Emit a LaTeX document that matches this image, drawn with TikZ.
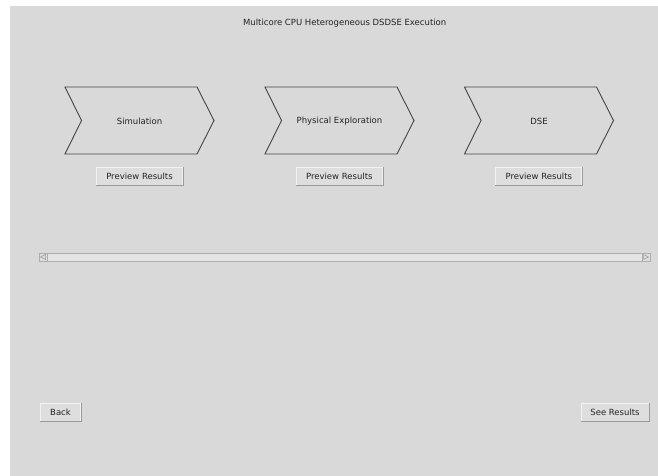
\documentclass[tikz,border=0pt]{standalone}
\usepackage{fontspec}
\setmainfont{DejaVu Sans}
\definecolor{bg}{HTML}{D9D9D9}
\definecolor{btn}{HTML}{DEDEDE}
\definecolor{btnhi}{HTML}{F2F2F2}
\definecolor{btnsh}{HTML}{9A9A9A}
\definecolor{txt}{HTML}{222222}
\definecolor{outl}{HTML}{444444}
\begin{document}
\begin{tikzpicture}[x=1pt,y=-1pt,
  every node/.style={font=\fontsize{8.5}{10}\selectfont, text=txt, inner sep=0pt},
  chev/.style={draw=outl, line width=0.9pt, line join=miter},
  btnbox/.style={draw=btnhi, fill=btn, line width=0.8pt, minimum height=18pt},
]
\useasboundingbox (0,0) rectangle (658,476);
\fill[white] (0,0) rectangle (658,476);
\fill[bg] (10,6) rectangle (658,476);

\node (title) at (344.7,23) {Multicore CPU Heterogeneous DSDSE Execution};

% chevrons
\foreach \dx/\nm/\lab in {0/sim/Simulation, 200/phy/Physical Exploration, 399.5/dse/DSE}{
  \draw[chev] (65+\dx,87) -- (197+\dx,87) -- (214+\dx,120.5) -- (197+\dx,154)
     -- (65+\dx,154) -- (81.5+\dx,120.5) -- cycle;
  \node (\nm) at (139.5+\dx,121) {\lab};
}

% preview buttons
\foreach \cx/\nm in {139.5/pv1, 339.3/pv2, 538.8/pv3}{
  \node[btnbox, minimum width=86pt] (\nm) at (\cx,176) {Preview Results};
  \draw[btnsh, line width=1pt] ([xshift=0.5pt]\nm.north east) -- ([xshift=0.5pt,yshift=-0.5pt]\nm.south east) -- ([yshift=-0.5pt]\nm.south west);
}

% scrollbar
\node[draw=btnsh!80, fill=bg!70!white, line width=0.6pt, minimum width=611pt, minimum height=8pt] (sb) at (344.5,257) {};
\node[draw=btnsh!80, fill=btn, line width=0.6pt, minimum width=8pt, minimum height=8pt, anchor=west] (sbl) at (sb.west) {};
\node[draw=btnsh!80, fill=btn, line width=0.6pt, minimum width=8pt, minimum height=8pt, anchor=east] (sbr) at (sb.east) {};
\draw[btnsh, line width=0.5pt] ([xshift=-2.5pt]sbl.center) -- ([xshift=2.5pt,yshift=-2.5pt]sbl.center) -- ([xshift=2.5pt,yshift=2.5pt]sbl.center) -- cycle;
\draw[btnsh, line width=0.5pt] ([xshift=2.5pt]sbr.center) -- ([xshift=-2.5pt,yshift=-2.5pt]sbr.center) -- ([xshift=-2.5pt,yshift=2.5pt]sbr.center) -- cycle;

% bottom buttons
\node[btnbox, minimum width=40pt] (back) at (60.5,412) {Back};
\draw[btnsh, line width=1pt] ([xshift=0.5pt]back.north east) -- ([xshift=0.5pt,yshift=-0.5pt]back.south east) -- ([yshift=-0.5pt]back.south west);
\node[btnbox, minimum width=68pt] (see) at (615,412) {See Results};
\draw[btnsh, line width=1pt] ([xshift=0.5pt]see.north east) -- ([xshift=0.5pt,yshift=-0.5pt]see.south east) -- ([yshift=-0.5pt]see.south west);
\end{tikzpicture}
\end{document}
